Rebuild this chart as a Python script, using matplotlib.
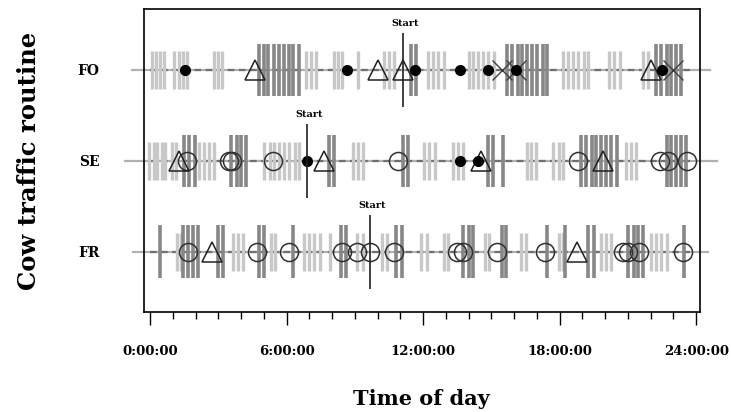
import matplotlib.pyplot as plt
import numpy as np

plt.rcParams['font.family'] = ['DejaVu Serif']

routines = ['FO', 'SE', 'FR']
row_pos = [3, 2, 1]

# hours of day at which each event was recorded
light_bars = {
    'FO': [0.1, 0.25, 0.45, 0.6, 1.05, 1.25, 1.45, 1.6, 2.8, 3.0, 3.15, 6.85, 7.05, 7.3,
           8.1, 8.25, 8.45, 9.15, 10.3, 10.5, 10.7, 12.2, 12.45, 12.65, 12.9,
           14.0, 14.2, 14.4, 14.65, 14.85, 15.1, 18.15, 18.35, 18.6, 18.8, 19.05, 19.25,
           20.15, 20.4, 20.65, 21.65, 21.9],
    'SE': [-0.05, 0.15, 0.3, 0.5, 0.65, 0.95, 1.15, 2.15, 2.35, 2.6, 2.8,
           5.0, 5.25, 5.45, 5.65, 5.9, 6.1, 6.35, 6.55, 8.9, 9.15, 9.35,
           12.05, 12.25, 12.5, 13.3, 13.55, 13.75, 16.55, 16.75, 16.95,
           17.7, 17.95, 18.15, 20.9, 21.15, 21.35],
    'FR': [1.2, 1.35, 3.65, 3.85, 4.1, 5.3, 5.5, 6.75, 7.0, 7.2, 7.45, 7.9,
           9.1, 9.35, 10.2, 10.4, 11.9, 12.15, 12.9, 13.1, 14.7, 14.9, 16.3, 16.5,
           17.95, 18.15, 19.8, 20.05, 20.25, 22.0, 22.25, 22.45, 22.7],
}
dark_bars = {
    'FO': [4.8, 5.0, 5.2, 5.45, 5.65, 5.9, 6.1, 6.3, 6.55, 11.45, 11.7,
           15.7, 15.9, 16.15, 16.35, 16.55, 16.8, 17.0, 17.25, 17.45,
           22.25, 22.45, 22.7, 22.9, 23.1, 23.35],
    'SE': [1.5, 1.7, 1.95, 3.55, 3.8, 4.0, 4.2, 7.85, 8.1, 11.1, 11.35, 14.85, 15.05, 15.5,
           18.95, 19.15, 19.4, 19.6, 19.8, 20.05, 20.25, 20.5,
           22.7, 22.9, 23.1, 23.35, 23.55],
    'FR': [0.45, 1.45, 1.65, 1.9, 2.1, 3.0, 3.2, 4.8, 5.0, 6.3, 8.4, 8.6, 10.8, 11.05,
           13.75, 14.0, 14.2, 15.45, 15.65, 17.45, 18.25, 19.25, 19.5,
           21.0, 21.25, 21.45, 21.65, 23.45],
}
filled_circles = {
    'FO': [1.54, 8.65, 11.65, 13.6, 14.85, 16.1, 22.5],
    'SE': [6.9, 13.6, 14.4],
    'FR': [],
}
open_circles = {
    'FO': [],
    'SE': [1.6, 3.45, 3.6, 5.4, 10.9, 18.8, 22.4, 22.77, 23.6],
    'FR': [1.67, 4.7, 6.1, 8.45, 9.1, 9.67, 10.7, 13.5, 13.75, 15.25, 17.35,
           20.8, 21.0, 21.5, 23.4],
}
triangles = {
    'FO': [4.6, 10.0, 11.1, 22.0],
    'SE': [1.27, 7.65, 14.55, 19.9],
    'FR': [2.7, 18.75],
}
crosses = {
    'FO': [15.45, 16.1, 23.0],
    'SE': [],
    'FR': [],
}
start_time = {'FO': 11.1, 'SE': 6.9, 'FR': 9.67}
line_span = {'FO': (-0.8, 24.6), 'SE': (-1.1, 24.9), 'FR': (-0.75, 24.5)}

fig = plt.figure(figsize=(7.31, 4.12), dpi=100)
ax = fig.add_axes([0.197, 0.243, 0.76, 0.735])

for name, y in zip(routines, row_pos):
    x0, x1 = line_span[name]
    ax.plot([x0, x1], [y, y], color='#b0b0b0', lw=1.6, clip_on=False, zorder=1)
    ax.plot([0.0, 23.8], [y, y], color='#707070', lw=1.6, ls=(0, (3, 2)), zorder=1.5)
    ax.vlines(light_bars[name], y - 0.21, y + 0.21, color='#c8c8c8', lw=2.4, zorder=2)
    ax.vlines(dark_bars[name], y - 0.29, y + 0.29, color='#878787', lw=2.6, zorder=2.2)
    ax.plot(open_circles[name], [y] * len(open_circles[name]), 'o', ms=13,
            mfc='none', mec='#303030', mew=1.1, zorder=4)
    ax.plot(triangles[name], [y] * len(triangles[name]), '^', ms=15,
            mfc='none', mec='#202020', mew=1.1, zorder=4)
    ax.plot(filled_circles[name], [y] * len(filled_circles[name]), 'o', ms=7,
            color='black', zorder=5)
    ax.plot(crosses[name], [y] * len(crosses[name]), 'x', ms=14,
            color='#404040', mew=1.0, zorder=4)
    s = start_time[name]
    ax.vlines(s, y - 0.41, y + 0.41, color='#202020', lw=1.2, zorder=6)
    ax.text(s + 0.1, y + 0.46, 'Start', ha='center', va='bottom',
            fontsize=7, fontweight='bold', zorder=6)

ax.set_xlim(-0.27, 24.15)
ax.set_ylim(0.34, 3.67)

ax.set_xticks([0, 6, 12, 18, 24])
ax.set_xticklabels(['0:00:00', '6:00:00', '12:00:00', '18:00:00', '24:00:00'])
ax.set_xticks(np.arange(0, 25, 1), minor=True)
ax.tick_params(axis='x', which='major', length=9, width=1, pad=15, labelsize=9.5)
ax.tick_params(axis='x', which='minor', length=5, width=1)
for lab in ax.get_xticklabels():
    lab.set_fontweight('bold')

ax.set_yticks(row_pos)
ax.set_yticklabels(routines)
ax.tick_params(axis='y', length=0, pad=32, labelsize=10)
for lab in ax.get_yticklabels():
    lab.set_fontweight('bold')

for sp in ax.spines.values():
    sp.set_linewidth(1.2)

ax.set_xlabel('Time of day', fontsize=15, fontweight='bold', labelpad=22)
ax.set_ylabel('Cow traffic routine', fontsize=17.5, fontweight='bold', labelpad=26)

fig.savefig('out.png', dpi=100)
plt.close(fig)
